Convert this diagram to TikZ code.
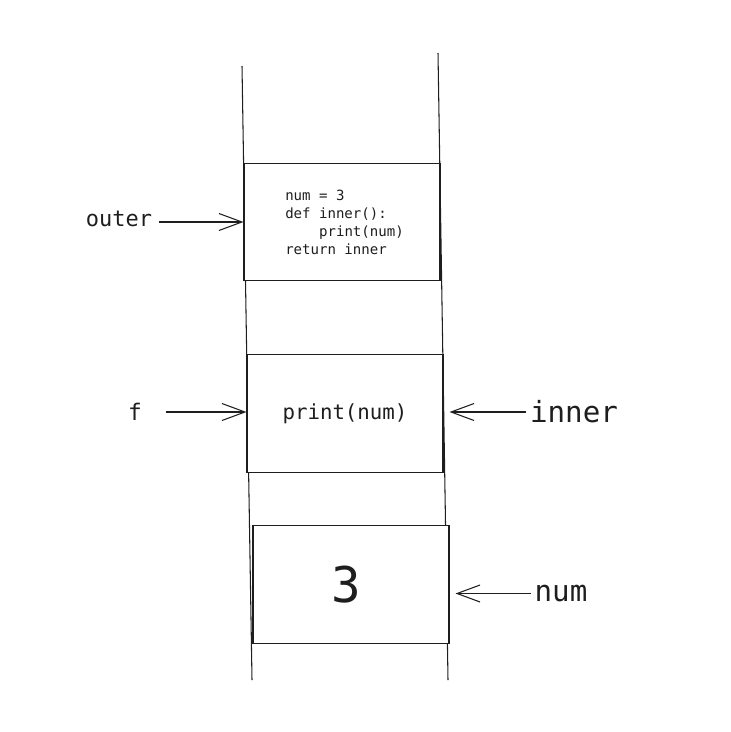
\documentclass[tikz,border=0pt]{standalone}
\usepackage{fontspec}
\usepackage{tikz}
\usetikzlibrary{arrows.meta}
\newfontfamily\codefont{DejaVu Sans Mono}
\definecolor{ink}{HTML}{1E1E1E}

\begin{document}
\begin{tikzpicture}[
  every node/.style={font=\codefont, text=ink},
  frame/.style ={draw=ink, line width=0.6pt, fill=white,
                 minimum width=3.92cm, minimum height=2.35cm,
                 inner sep=0pt, align=left},
  lbl/.style   ={inner sep=2pt},
  wall/.style  ={draw=ink, line width=0.6pt},
  arr/.style   ={-{Straight Barb[length=0.46cm, width=0.34cm]},
                 draw=ink, line width=0.6pt}]

\useasboundingbox (0,0) rectangle (14.6,-14.64);

%% The two walls of the stack
\draw[wall] (4.84,-1.32) -- (5.04,-13.60);
\draw[wall] (8.76,-1.06) -- (8.96,-13.60);

%% Frames, top to bottom
\node[frame, font=\codefont\fontsize{8}{10.2}\selectfont, text depth=0pt]
  (outbox) at (6.84,-4.44)
  {\hspace*{0.1cm}num = 3\\
   \hspace*{0.1cm}def inner():\\
   \hspace*{0.1cm}\hphantom{xxxx}print(num)\\
   \hspace*{0.1cm}return inner};
\node[frame, font=\codefont\fontsize{11.8}{14}\selectfont]
  (fnbox) at (6.90,-8.27) {print(num)};
\node[frame, font=\codefont\fontsize{28}{32}\selectfont]
  (numbox) at (7.02,-11.69) {\hspace*{-0.2cm}3};

%% Names pointing at the frames
\node[lbl, font=\codefont\fontsize{12.5}{14}\selectfont] (outer) at (2.38,-4.38) {outer};
\node[lbl, font=\codefont\fontsize{13}{15}\selectfont]   (f)     at (2.70,-8.24) {f};
\node[lbl, font=\codefont\fontsize{16.6}{19}\selectfont] (inner) at (11.48,-8.24) {inner};
\node[lbl, font=\codefont\fontsize{16.6}{19}\selectfont] (num)   at (11.22,-11.87) {num};

%% Arrows
\draw[arr, shorten <=0.06cm] (outer.east |- outbox.west) -- (outbox.west);
\draw[arr, shorten <=0.4cm] (f.east) -- (f.east -| fnbox.west);
\draw[arr, shorten >=0.12cm] (inner.west) -- (inner.west -| fnbox.east);
\draw[arr, shorten >=0.12cm] (num.west) -- (num.west -| numbox.east);
\end{tikzpicture}
\end{document}
